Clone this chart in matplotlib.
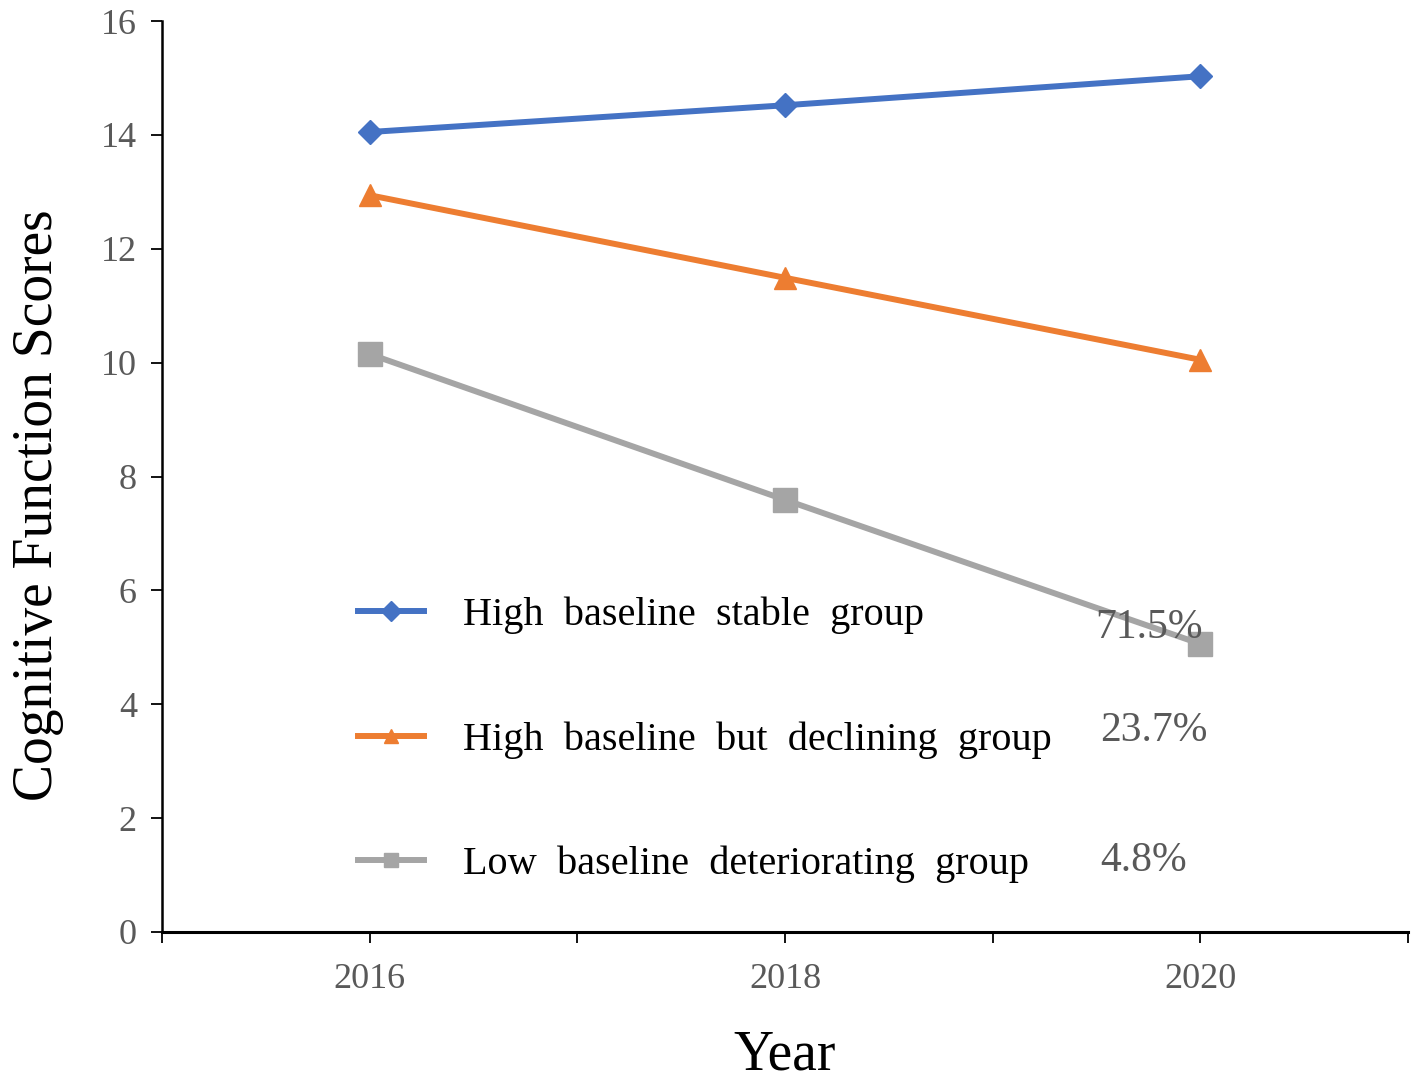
import numpy as np
import matplotlib.pyplot as plt

plt.rcParams['font.family'] = ['Liberation Serif', 'DejaVu Serif']

years = [2016, 2018, 2020]
stable = [14.05, 14.52, 15.03]
declining = [12.94, 11.49, 10.05]
deteriorating = [10.15, 7.59, 5.06]
group_names = ['High  baseline  stable  group',
               'High  baseline  but  declining  group',
               'Low  baseline  deteriorating  group']
shares = ['71.5%', '23.7%', '4.8%']

colors = ['#4472C4', '#ED7D31', '#A5A5A5']
markers = ['D', '^', 's']
msizes = [12, 16, 17]

fig = plt.figure(figsize=(14.18, 10.84), dpi=100)
ax = fig.add_axes([162/1418, 1 - 932/1084, (1408 - 162)/1418, (932 - 21)/1084])

lines = []
for vals, c, m, ms, name in zip([stable, declining, deteriorating], colors, markers, msizes, group_names):
    ln, = ax.plot(years, vals, color=c, marker=m, markersize=ms, linewidth=4.3,
                  label=name, zorder=3)
    lines.append(ln)

ax.set_xlim(2015, 2021)
ax.set_ylim(0, 16)
ax.set_xticks(np.arange(2015, 2022))
ax.set_xticklabels(['' if y not in years else str(y) for y in range(2015, 2022)])
ax.set_yticks(np.arange(0, 17, 2))

ax.spines['top'].set_visible(False)
ax.spines['right'].set_visible(False)
ax.spines['left'].set_linewidth(1.8)
ax.spines['bottom'].set_linewidth(2.2)
ax.tick_params(axis='both', direction='out', length=8, width=1.3, colors='black',
               labelcolor='#595959', labelsize=26)
ax.tick_params(axis='y', pad=10)
ax.tick_params(axis='x', pad=14)

ax.set_ylabel('Cognitive Function Scores', fontsize=40)
ax.yaxis.set_label_coords(38/1418, 1 - 505/1084, transform=fig.transFigure)
ax.yaxis.label.set_va('center')
ax.set_xlabel('Year', fontsize=40)
ax.xaxis.set_label_coords(785/1418, 1 - 1056/1084, transform=fig.transFigure)
ax.xaxis.label.set_va('center')

leg = ax.legend(handles=lines, loc='upper left',
                bbox_to_anchor=(358/1418, 1 - 597/1084), bbox_transform=fig.transFigure,
                frameon=False, fontsize=29, handlelength=1.65, handletextpad=0.95,
                labelspacing=2.15, borderpad=0, borderaxespad=0)
for h in leg.legend_handles:
    h.set_markersize(10)

share_y = [628, 731, 861]
share_x = [1095, 1100, 1100]
for s, x, y in zip(shares, share_x, share_y):
    fig.text(x/1418, 1 - y/1084, s, fontsize=30, color='#595959', va='center', ha='left')

fig.savefig('out.png', dpi=100)
